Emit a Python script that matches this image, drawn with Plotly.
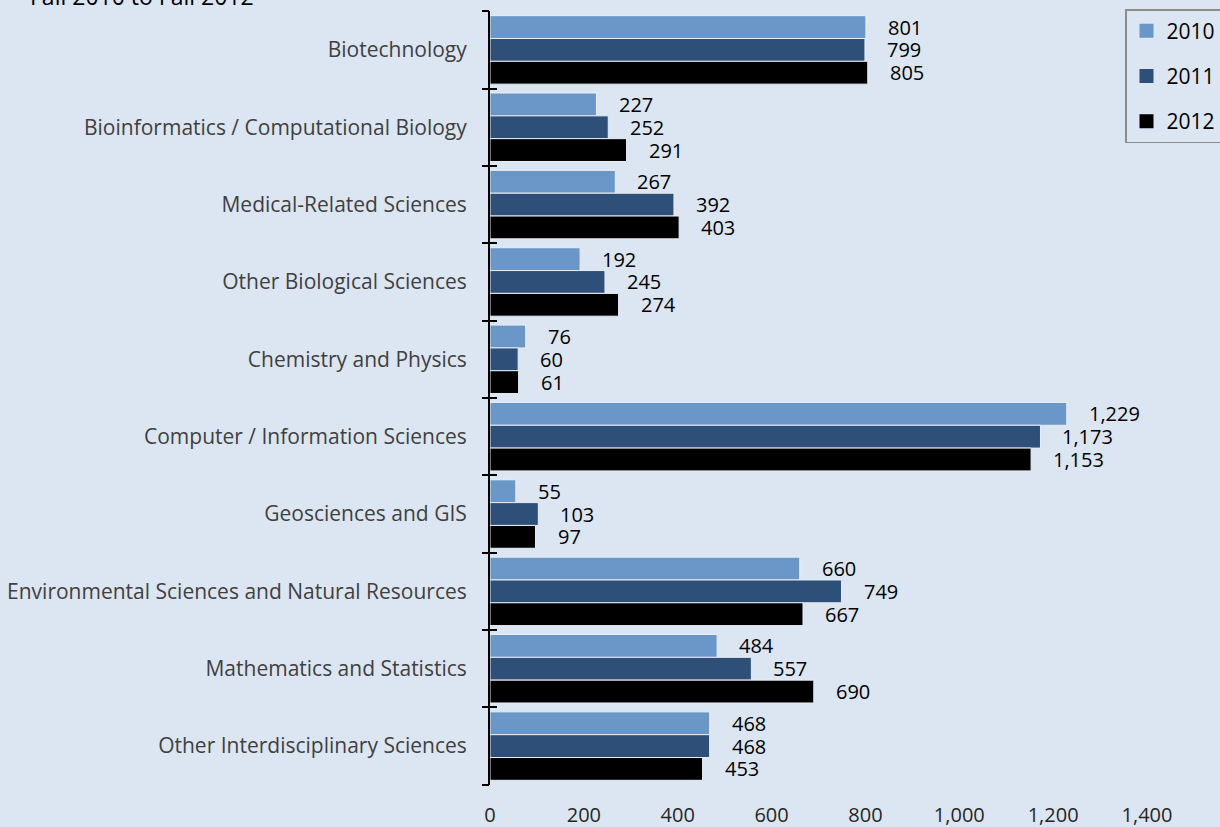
import plotly.graph_objects as go

# Enrollment by program field, Fall 2010 to Fall 2012
categories = [
    "Biotechnology",
    "Bioinformatics / Computational Biology",
    "Medical-Related Sciences",
    "Other Biological Sciences",
    "Chemistry and Physics",
    "Computer / Information Sciences",
    "Geosciences and GIS",
    "Environmental Sciences and Natural Resources",
    "Mathematics and Statistics",
    "Other Interdisciplinary Sciences",
]
years = ["2010", "2011", "2012"]
values_2010 = [801, 227, 267, 192, 76, 1229, 55, 660, 484, 468]
values_2011 = [799, 252, 392, 245, 60, 1173, 103, 749, 557, 468]
values_2012 = [805, 291, 403, 274, 61, 1153, 97, 667, 690, 453]
x_ticks = [0, 200, 400, 600, 800, 1000, 1200, 1400]
subtitle = "Fall 2010 to Fall 2012"

series = [values_2010, values_2011, values_2012]
colors = ["#6a96c8", "#2e5078", "#000000"]
bg = "#dce6f2"
font_family = "Open Sans, Liberation Sans, sans-serif"
n_cat = len(categories)
y_range = [n_cat - 0.5 + 0.003, -0.5 - 0.003]
boundaries = [i - 0.5 for i in range(n_cat + 1)]

fig = go.Figure()
for year, vals, col in zip(years, series, colors):
    fig.add_trace(go.Bar(
        y=categories, x=vals, name=year, orientation="h",
        marker=dict(color=col, line=dict(color="#e8eef6", width=1)),
        showlegend=False,
        hoverinfo="x+y+name",
    ))

# Legend entries with square swatches
for year, col in zip(years, colors):
    fig.add_trace(go.Scatter(
        x=[None], y=[None], mode="markers", name=year, legendgroup=year,
        marker=dict(symbol="square", size=14, color=col),
    ))

# Empty traces that carry the two tick-mark axes (outer and inner halves)
for ax in ["y2", "y3"]:
    fig.add_trace(go.Scatter(
        x=[None], y=[None], yaxis=ax, mode="markers",
        showlegend=False, hoverinfo="skip",
    ))

# Value labels beside each bar end (placed from the data values)
offsets = [-1, 0, 1]
annotations = []
for year, vals, off in zip(years, series, offsets):
    for cat, v in zip(categories, vals):
        annotations.append(dict(
            x=v, y=cat, xref="x", yref="y", text=f"{v:,}",
            showarrow=False, xanchor="left", yanchor="middle",
            xshift=20, yshift=-off * 22.8,
            font=dict(family=font_family, size=20, color="#000000"),
        ))

annotations.append(dict(
    x=0, y=1, xref="paper", yref="paper", text=subtitle,
    showarrow=False, xanchor="left", yanchor="bottom",
    xshift=-462, yshift=-3,
    font=dict(family=font_family, size=23, color="#000000"),
))

tick_axis = dict(
    range=y_range, overlaying="y", side="left", anchor="x",
    tickvals=boundaries, showticklabels=False, automargin=False,
    ticklen=7, tickwidth=2, tickcolor="#000000",
    showgrid=False, zeroline=False, showline=False,
)

fig.update_layout(
    width=1220, height=827,
    paper_bgcolor=bg, plot_bgcolor=bg,
    margin=dict(l=490, r=73, t=11, b=42, autoexpand=False),
    barmode="group", bargap=0.115, bargroupgap=0,
    font=dict(family=font_family, size=20, color="#262626"),
    showlegend=True,
    legend=dict(
        xref="container", yref="container",
        x=1125 / 1220, y=1 - 9 / 827, xanchor="left", yanchor="top",
        bgcolor=bg, bordercolor="#8c8c8c", borderwidth=1.5,
        font=dict(family=font_family, size=21, color="#000000"),
        tracegroupgap=15, itemwidth=30,
    ),
    annotations=annotations,
    xaxis=dict(
        range=[0, 1400], tickvals=x_ticks,
        ticktext=[f"{t:,}" for t in x_ticks],
        showgrid=False, zeroline=False, showline=False, ticks="",
        automargin=False, ticklabelstandoff=16,
        tickfont=dict(family=font_family, size=20, color="#262626"),
    ),
    yaxis=dict(
        type="category", categoryorder="array", categoryarray=categories,
        range=y_range, automargin=False,
        showline=True, linecolor="#000000", linewidth=2,
        ticks="", ticklabelstandoff=17,
        showgrid=False, zeroline=False,
        tickfont=dict(family=font_family, size=21, color="#404040"),
    ),
    yaxis2=dict(tick_axis, ticks="outside"),
    yaxis3=dict(tick_axis, ticks="inside"),
)

fig.write_html("out.html")
